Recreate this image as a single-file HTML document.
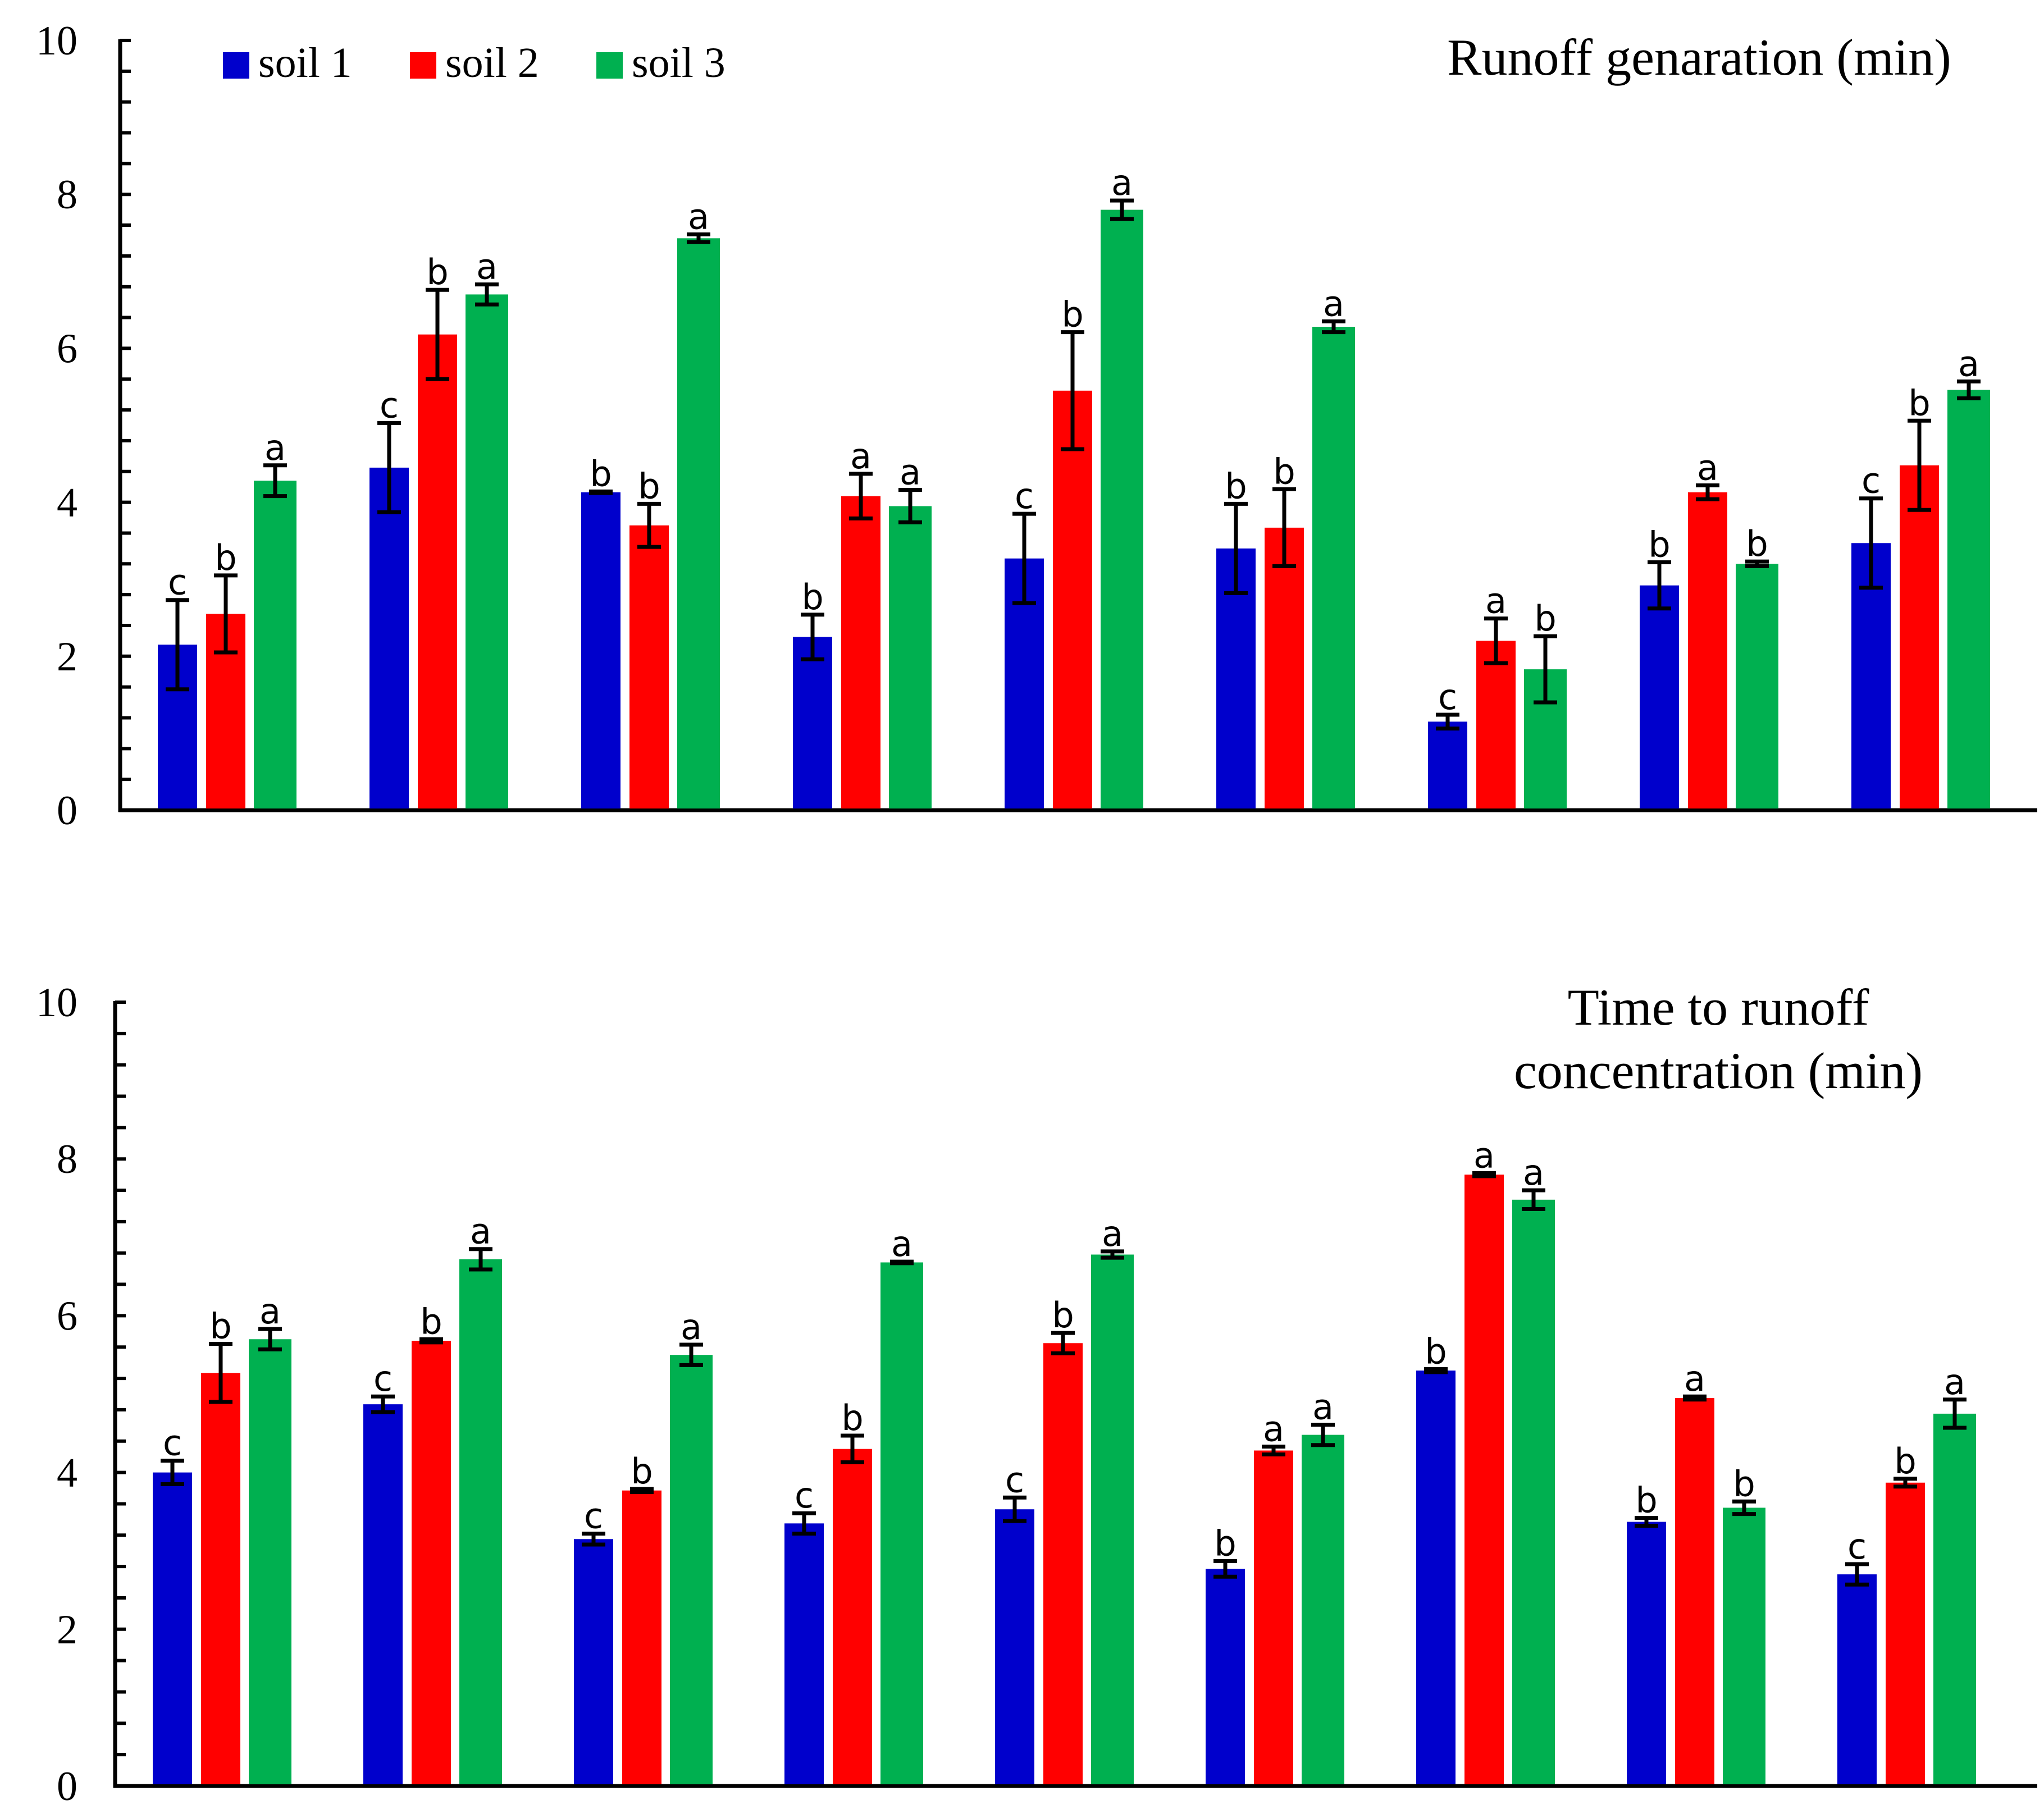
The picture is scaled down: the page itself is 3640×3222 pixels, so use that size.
<!DOCTYPE html>
<html><head><meta charset="utf-8"><style>
html,body{margin:0;padding:0;background:#fff;}
svg{display:block;}
</style></head><body>
<svg id="chart" width="3640" height="3222" xmlns="http://www.w3.org/2000/svg"></svg>
<script>
const series = ["soil 1","soil 2","soil 3"];
const colors = ["#0000CC","#FF0000","#00B050"];
const groups = [1,2,3,4,5,6,7,8,9];
const yTicks = [0,2,4,6,8,10];
// Top panel: runoff generation
const topSoil1 = [2.15,4.45,4.13,2.25,3.27,3.40,1.15,2.92,3.47];
const topSoil2 = [2.55,6.18,3.70,4.08,5.45,3.67,2.20,4.13,4.48];
const topSoil3 = [4.28,6.70,7.43,3.95,7.80,6.28,1.83,3.20,5.46];
const topErr1 = [0.58,0.58,0.01,0.29,0.58,0.58,0.09,0.30,0.58];
const topErr2 = [0.50,0.58,0.28,0.29,0.76,0.50,0.29,0.09,0.58];
const topErr3 = [0.20,0.13,0.05,0.21,0.12,0.07,0.43,0.03,0.11];
const topLet1 = ["c","c","b","b","c","b","c","b","c"];
const topLet2 = ["b","b","b","a","b","b","a","a","b"];
const topLet3 = ["a","a","a","a","a","a","b","b","a"];
// Bottom panel: time to runoff concentration
const botSoil1 = [4.00,4.87,3.15,3.35,3.53,2.77,5.30,3.37,2.70];
const botSoil2 = [5.27,5.68,3.77,4.30,5.65,4.28,7.80,4.95,3.87];
const botSoil3 = [5.70,6.72,5.50,6.68,6.78,4.48,7.48,3.55,4.75];
const botErr1 = [0.15,0.10,0.07,0.13,0.15,0.10,0.02,0.05,0.13];
const botErr2 = [0.37,0.02,0.02,0.17,0.13,0.05,0.02,0.02,0.05];
const botErr3 = [0.13,0.13,0.13,0.01,0.04,0.13,0.12,0.08,0.18];
const botLet1 = ["c","c","c","c","c","b","b","b","c"];
const botLet2 = ["b","b","b","b","b","a","a","a","b"];
const botLet3 = ["a","a","a","a","a","a","a","b","a"];

const NS="http://www.w3.org/2000/svg";
const svg=document.getElementById('chart');
function mk(tag,attrs,parent){const e=document.createElementNS(NS,tag);for(const k in attrs)e.setAttribute(k,attrs[k]);(parent||svg).appendChild(e);return e;}

function panel(cfg){
  const g=mk('g',{});
  
  
  const yS=v=>cfg.y0-(v/10)*(cfg.y0-cfg.y10);
  const xC=i=>cfg.gx0+i*cfg.gstep;
  const ya=mk('line',{x1:cfg.ax,y1:cfg.y10-2,x2:cfg.ax,y2:cfg.y0+3,stroke:'#000','stroke-width':7},g);
  
  
  const xa=mk('line',{x1:cfg.ax-3,y1:cfg.y0,x2:3628,y2:cfg.y0,stroke:'#000','stroke-width':7},g);
  
  
  for(let k=0;k<=25;k++){
    const v=k*0.4;const y=yS(v);
    mk('line',{x1:cfg.ax,y1:y,x2:cfg.ax+19,y2:y,stroke:'#000','stroke-width':6},g);
  }
  yTicks.forEach(t=>{
    const tx=mk('text',{x:138,y:yS(t)+25,'text-anchor':'end','font-family':'Liberation Serif, serif','font-size':74},g);
    tx.textContent=t;
    
    
  });
  const offs=[-86,0,88], widths=[70,70,76];
  groups.forEach((gr,i)=>{
    for(let s=0;s<3;s++){
      const v=cfg.vals[s][i], e=cfg.errs[s][i];
      const cx=xC(i)+offs[s];
      const r=mk('rect',{x:cx-widths[s]/2,y:yS(v),width:widths[s],height:cfg.y0-yS(v)-3,fill:colors[s]},g);
      
      
      const yt=yS(v+e), yb=yS(v-e);
      mk('line',{x1:cx,y1:yt,x2:cx,y2:yb,stroke:'#000','stroke-width':7},g);
      mk('line',{x1:cx-21,y1:yt,x2:cx+21,y2:yt,stroke:'#000','stroke-width':7},g);
      mk('line',{x1:cx-21,y1:yb,x2:cx+21,y2:yb,stroke:'#000','stroke-width':7},g);
      const lt=mk('text',{x:cx,y:yt-10,'text-anchor':'middle','font-family':'DejaVu Sans, sans-serif','font-size':62},g);
      lt.textContent=cfg.lets[s][i];
      
      
    }
  });
  cfg.title.forEach((line,j)=>{
    const t=mk('text',{x:cfg.tx,y:cfg.ty+j*113,'text-anchor':'middle','font-family':'Liberation Serif, serif','font-size':92},g);
    t.textContent=line;
    
    
  });
}

panel({name:'runoff-generation-panel',ax:214,y0:1443,y10:72,gx0:402,gstep:377,
  vals:[topSoil1,topSoil2,topSoil3],errs:[topErr1,topErr2,topErr3],lets:[topLet1,topLet2,topLet3],
  title:['Runoff genaration (min)'],tx:3026,ty:133});
panel({name:'runoff-concentration-panel',ax:205,y0:3181,y10:1785,gx0:393,gstep:375,
  vals:[botSoil1,botSoil2,botSoil3],errs:[botErr1,botErr2,botErr3],lets:[botLet1,botLet2,botLet3],
  title:['Time to runoff','concentration (min)'],tx:3060,ty:1825});

const lg=mk('g',{});


const lx=[397,730,1062];
series.forEach((s,i)=>{
  const r=mk('rect',{x:lx[i],y:93,width:47,height:47,fill:colors[i]},lg);
  
  
  const t=mk('text',{x:lx[i]+63,y:137,'font-family':'Liberation Serif, serif','font-size':76},lg);
  t.textContent=s;
  
  
});
</script>
</body></html>
